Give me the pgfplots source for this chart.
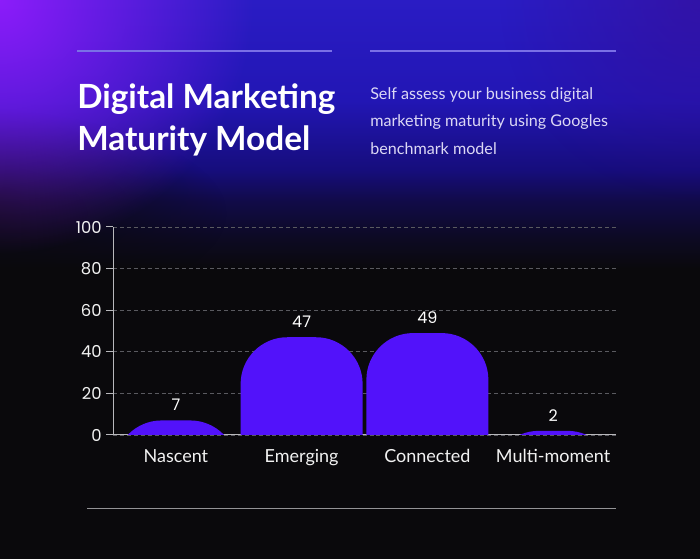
\documentclass[border=0pt]{standalone}
\usepackage{pgfplots}
\pgfplotsset{compat=1.18}
\usepackage{pgfplotstable}
\usepackage{fontspec}
\setmainfont{Lato}
\newfontfamily\titlefont{Lato}
\newfontfamily\chartfont{Poppins}
\newfontfamily\catfont{Lato}
\usetikzlibrary{fadings}
\definecolor{bgbase}{HTML}{0A090C}
\definecolor{cA}{HTML}{2A1CC4}
\definecolor{cB}{HTML}{2216B4}
\definecolor{cC}{HTML}{160D7C}
\definecolor{cD}{HTML}{110B48}
\definecolor{cE}{HTML}{0D0A24}
\definecolor{violetc}{HTML}{8C1CFA}
\definecolor{purplec}{HTML}{3A0A8C}
\definecolor{barc}{HTML}{5212FA}
\definecolor{linec}{HTML}{7A70E6}
\definecolor{subc}{HTML}{DCD8F5}
\definecolor{gridc}{HTML}{5A5A60}
\definecolor{axisc}{HTML}{B8B8BC}
\pgfdeclareverticalshading{bgv}{100bp}{color(0bp)=(bgbase); color(25bp)=(bgbase); color(51bp)=(bgbase); color(53.8bp)=(cE); color(57bp)=(cD); color(59.8bp)=(cC); color(66bp)=(cB); color(75bp)=(cA); color(100bp)=(cA)}
\tikzfading[name=radfade, inner color=transparent!0, outer color=transparent!100]
\pgfplotstableread{
x v
0 7
1 47
2 49
3 2
}\datatable
\pgfplotsset{commonaxis/.style={
  at={(84.75pt,-326.25pt)}, anchor=south west,
  scale only axis, width=377.25pt, height=156pt,
  xmin=-0.5, xmax=3.5, ymin=0, ymax=100,
  /pgf/number format/assume math mode=true}}
\begin{document}
\begin{tikzpicture}
\useasboundingbox (0,0) rectangle (525pt,-419.25pt);
\begin{scope}
\clip (0,0) rectangle (525pt,-419.25pt);
\shade[shading=bgv] (0,0) rectangle (525pt,-419.25pt);
\fill[bgbase, path fading=radfade] (-40pt,-160pt) ellipse (210pt and 80pt);
\fill[violetc, path fading=radfade] (0,0) circle (190pt);
\fill[purplec, path fading=radfade, opacity=0.5] (525pt,0) circle (150pt);
\end{scope}
% decorative lines
\draw[linec, line width=0.9pt] (57.75pt,-38.25pt) -- (249pt,-38.25pt);
\draw[linec, line width=0.9pt] (277.5pt,-38.25pt) -- (462pt,-38.25pt);
\draw[axisc!80!black, line width=0.75pt] (65.25pt,-381.75pt) -- (462pt,-381.75pt);
% title (base anchor = baseline of last line)
\node[anchor=base west, align=left, text=white, inner sep=0pt,
      font=\titlefont\bfseries\fontsize{25}{31.5}\selectfont] at (57.75pt,-113pt)
      {Digital Marketing\\Maturity Model};
\node[anchor=base west, align=left, text=subc, inner sep=0pt,
      font=\fontsize{12.1}{20.6}\selectfont] at (277.5pt,-115.7pt)
      {Self assess your business digital\\marketing maturity using Googles\\benchmark model};
\begin{axis}[
  commonaxis,
  axis lines=left,
  axis line style={-, color=axisc, line width=0.75pt},
  ytick={0,20,40,60,80,100},
  xtick={0,1,2,3},
  xticklabels={Nascent,Emerging,Connected,Multi-moment},
  ymajorgrids,
  major grid style={gridc, line width=0.6pt, dash pattern=on 3pt off 2.2pt},
  tick align=outside, major tick length=5pt,
  ytick style={axisc, line width=0.75pt},
  xtick style={draw=none},
  yticklabel style={font=\chartfont\fontsize{12.3}{14}\selectfont, text=white!95!black},
  xticklabel style={font=\catfont\fontsize{13.5}{16}\selectfont, text=white!95!black, yshift=-2.5pt},
  ybar stacked, stack negative=on previous, bar width=91.5pt,
]
\addplot[draw=none, fill=none] table[x=x, y expr=-60] {\datatable};
\addplot[fill=barc, draw=none, rounded corners=35pt]
  table[x=x, y expr=\thisrow{v}+60] {\datatable};
\end{axis}
\begin{axis}[commonaxis, hide axis, clip=false]
\addplot[draw=none, mark=none, nodes near coords, point meta=explicit,
  nodes near coords style={font=\chartfont\fontsize{12}{14}\selectfont, text=white, anchor=center, yshift=11.5pt}]
  table[x=x, y=v, meta=v] {\datatable};
\end{axis}
\end{tikzpicture}
\end{document}
